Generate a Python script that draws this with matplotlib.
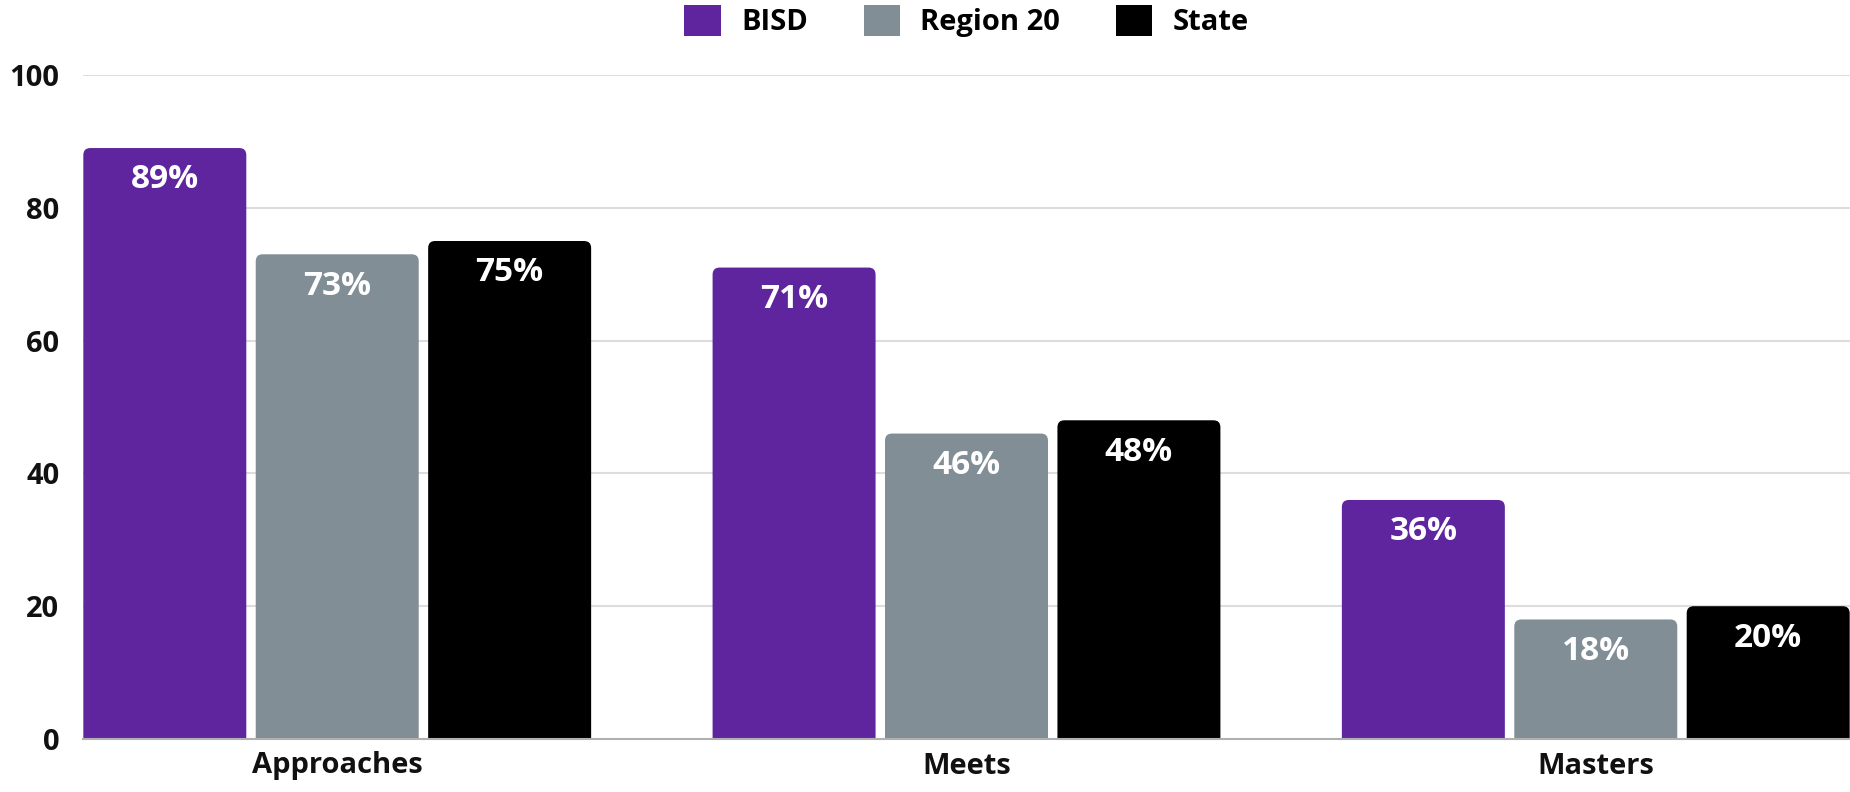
import numpy as np
import matplotlib.pyplot as plt
from matplotlib.patches import FancyBboxPatch, Patch

# ---- DATA ---- #
categories = ["Approaches", "Meets", "Masters"]
series_names = ["BISD", "Region 20", "State"]
bisd = [89, 71, 36]
region20 = [73, 46, 18]
state = [75, 48, 20]
y_ticks = [0, 20, 40, 60, 80, 100]

colors = ["#5e259e", "#818e96", "#000000"]
font = "Open Sans"

# ---- FIGURE ---- #
W, H, dpi = 1850, 792, 100
fig = plt.figure(figsize=(W / dpi, H / dpi), dpi=dpi)
ax = fig.add_axes([83 / W, 1 - 739 / H, 1 - 83 / W, (739 - 75) / H])

x = np.arange(len(categories))
bar_w = 0.259
step = 0.274
xlim = (-0.404, len(categories) - 1 + 0.404)
ylim = (0, 100)
ax.set_xlim(*xlim)
ax.set_ylim(*ylim)

# pixel scale so the rounded corners stay round
px_x = ax.get_position().width * W / (xlim[1] - xlim[0])
px_y = ax.get_position().height * H / (ylim[1] - ylim[0])
r_px = 7

for i, (vals, col) in enumerate(zip([bisd, region20, state], colors)):
    for xi, v in zip(x, vals):
        left = xi + (i - 1) * step - bar_w / 2
        patch = FancyBboxPatch(
            (left, -3), bar_w, v + 3,
            boxstyle=f"round,pad=0,rounding_size={r_px / px_x}",
            mutation_aspect=px_x / px_y,
            facecolor=col, edgecolor="none", zorder=2,
        )
        ax.add_patch(patch)
        ax.annotate(
            f"{v}%", (xi + (i - 1) * step, v), xytext=(0, -23),
            textcoords="offset points", ha="center", va="center",
            color="white", fontsize=24, fontweight="bold", family=font, zorder=3,
        )

# ---- AXES STYLE ---- #
for s in ax.spines.values():
    s.set_visible(False)
ax.set_yticks(y_ticks)
ax.set_xticks(x)
ax.set_xticklabels(categories)
ax.tick_params(length=0)
ax.tick_params(axis="y", pad=17)
ax.tick_params(axis="x", pad=9)
for lab in ax.get_xticklabels() + ax.get_yticklabels():
    lab.set_fontsize(21)
    lab.set_fontweight("bold")
    lab.set_family(font)
    lab.set_color("#111111")

for t in y_ticks[1:]:
    ax.axhline(t, color="#dddddd", lw=1.5, zorder=1)
ax.axhline(0, color="#b0b0b0", lw=1.5, zorder=4, clip_on=False)

# ---- LEGEND ---- #
handles = [Patch(facecolor=c, edgecolor="none") for c in colors]
leg = fig.legend(
    handles, series_names, loc="center", ncol=3, frameon=False,
    bbox_to_anchor=((83 + W) / 2 / W, 1 - 21 / H),
    handlelength=1.25, handleheight=1.25, handletextpad=0.7,
    columnspacing=1.9, prop={"family": font, "weight": "bold", "size": 21},
)

fig.savefig("out.png", dpi=dpi)
